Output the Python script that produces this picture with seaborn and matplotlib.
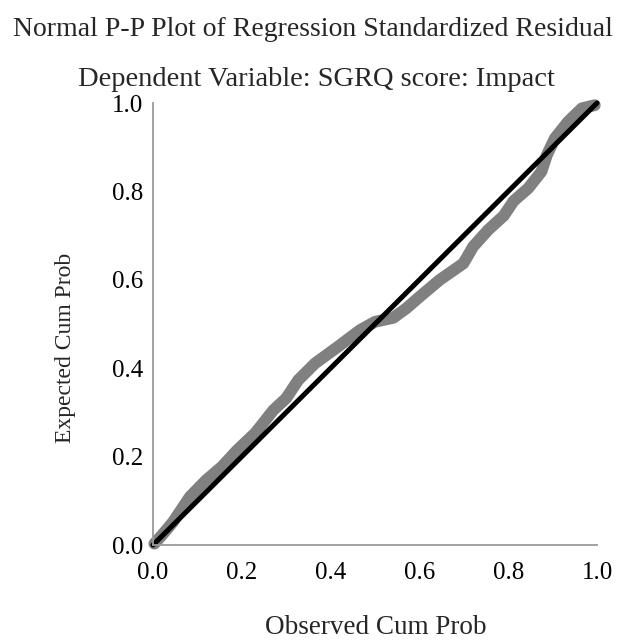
import matplotlib
matplotlib.use("Agg")
import matplotlib.pyplot as plt
import seaborn as sns
import pandas as pd

# Data
observed_cum_prob = [0.003, 0.020, 0.045, 0.083, 0.120, 0.155, 0.190, 0.230, 0.271, 0.300,
                     0.327, 0.365, 0.417, 0.466, 0.500, 0.541, 0.570, 0.601, 0.646, 0.699,
                     0.721, 0.755, 0.790, 0.812, 0.845, 0.875, 0.887, 0.905, 0.935, 0.966, 0.995]
expected_cum_prob = [0.003, 0.022, 0.052, 0.109, 0.147, 0.177, 0.215, 0.253, 0.305, 0.332,
                     0.373, 0.411, 0.449, 0.486, 0.505, 0.514, 0.535, 0.562, 0.600, 0.637,
                     0.675, 0.713, 0.745, 0.778, 0.807, 0.845, 0.882, 0.920, 0.958, 0.988, 0.995]
ref_line = [0.0, 1.0]
tick_values = [0.0, 0.2, 0.4, 0.6, 0.8, 1.0]
tick_labels = ["0.0", "0.2", "0.4", "0.6", "0.8", "1.0"]

title_text = "Normal P-P Plot of Regression Standardized Residual"
subtitle_text = "Dependent Variable: SGRQ score: Impact"
x_label = "Observed Cum Prob"
y_label = "Expected Cum Prob"

sns.set_theme(style="white")
plt.rcParams["font.family"] = ["Liberation Serif", "DejaVu Serif"]

df = pd.DataFrame({"obs": observed_cum_prob, "exp": expected_cum_prob})
ref = pd.DataFrame({"x": ref_line, "y": ref_line})

fig = plt.figure(figsize=(6.25, 6.42), dpi=100)
ax = fig.add_axes([153 / 625, 1 - 545 / 642, 444 / 625, 442 / 642])

sns.lineplot(data=df, x="obs", y="exp", sort=False, ax=ax, color="#808080",
             linewidth=8.5, solid_capstyle="round", solid_joinstyle="round",
             estimator=None, clip_on=False)
sns.lineplot(data=ref, x="x", y="y", sort=False, ax=ax, color="black",
             linewidth=3.6, solid_capstyle="round", estimator=None, clip_on=False)

ax.set_xlim(0, 1)
ax.set_ylim(0, 1)
ax.set_xticks(tick_values)
ax.set_xticklabels(tick_labels)
ax.set_yticks(tick_values)
ax.set_yticklabels(tick_labels)
ax.tick_params(axis="both", length=0, labelsize=18, colors="black")
ax.tick_params(axis="x", pad=12)
ax.tick_params(axis="y", pad=7)

for side in ["top", "right"]:
    ax.spines[side].set_visible(False)
for side in ["left", "bottom"]:
    ax.spines[side].set_color("#9a9a9a")
    ax.spines[side].set_linewidth(1.3)

ax.set_xlabel("")
ax.set_ylabel("")
fig.text(313 / 625, 1 - 30 / 642, title_text, ha="center", va="center", fontsize=20)
fig.text(316 / 625, 1 - 80 / 642, subtitle_text, ha="center", va="center", fontsize=20.5)
fig.text(376 / 625, 1 - 627 / 642, x_label, ha="center", va="center", fontsize=19.5)
fig.text(65 / 625, 1 - 348 / 642, y_label, ha="center", va="center", fontsize=17, rotation=90)

fig.savefig("out.png", dpi=100, facecolor="white")
